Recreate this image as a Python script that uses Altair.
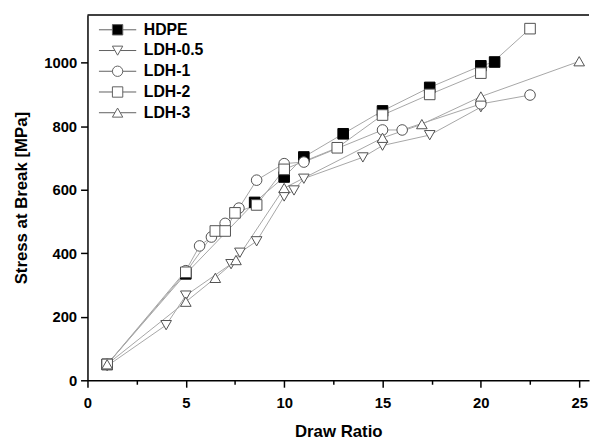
import altair as alt
import pandas as pd

# ---- data ----
series_names = ["HDPE", "LDH-0.5", "LDH-1", "LDH-2", "LDH-3"]

hdpe_x = [1, 5, 8.5, 10, 11, 13, 15, 17.4, 20, 20.7]
hdpe_y = [50, 335, 560, 640, 703, 776, 848, 922, 990, 1002]

ldh05_x = [1, 4, 5, 7.3, 7.75, 8.6, 10, 10.5, 11, 14, 15, 17.4, 20]
ldh05_y = [45, 174, 267, 366, 402, 438, 579, 598, 635, 702, 739, 772, 860]

ldh1_x = [1, 5, 5.7, 6.3, 7, 7.7, 8.6, 10, 11, 15, 16, 20, 22.5]
ldh1_y = [50, 345, 423, 451, 494, 542, 630, 682, 687, 788, 788, 870, 898]

ldh2_x = [1, 5, 6.5, 7, 7.5, 8.6, 10, 12.7, 15, 17.4, 20, 22.5]
ldh2_y = [50, 340, 470, 470, 527, 552, 664, 732, 835, 900, 967, 1107]

ldh3_x = [1, 5, 6.5, 7.55, 10, 15, 17, 20, 25]
ldh3_y = [50, 247, 322, 378, 605, 763, 806, 893, 1004]

x_ticks = [0, 2.5, 5, 7.5, 10, 12.5, 15, 17.5, 20, 22.5, 25]
y_ticks = [0, 100, 200, 300, 400, 500, 600, 700, 800, 900, 1000, 1100]

# ---- build table ----
rows = []
for name, xs, ys in zip(series_names,
                        [hdpe_x, ldh05_x, ldh1_x, ldh2_x, ldh3_x],
                        [hdpe_y, ldh05_y, ldh1_y, ldh2_y, ldh3_y]):
    for x, y in zip(xs, ys):
        rows.append({"series": name, "draw_ratio": x, "stress": y})
df = pd.DataFrame(rows)
legend_df = pd.DataFrame({"series": series_names})
top_df = pd.DataFrame({"stress": [1150]})

# marker shapes (custom paths in the -1..1 box)
SQ = "M-1,-1H1V1H-1Z"
CI = "M1,0A1,1,0,1,1,-1,0A1,1,0,1,1,1,0Z"
TD = "M-1,-0.85L1,-0.85L0,0.9Z"
TU = "M-1,0.85L1,0.85L0,-0.9Z"
marker_paths = [SQ, TD, CI, SQ, TU]
LINE_SQ = "M-3.6,0H-1M1,0H3.6"
LINE_TR = "M-3.6,0H-0.52M0.52,0H3.6"
legend_paths = [LINE_SQ + SQ, LINE_TR + TD, LINE_SQ + CI, LINE_SQ + SQ, LINE_TR + TU]
fills = ["black", "white", "white", "white", "white"]
strokes = ["black", "#505050", "#505050", "#505050", "#505050"]

FONT = "Liberation Sans"

x_enc = alt.X(
    "draw_ratio:Q",
    scale=alt.Scale(domain=[0, 25.5], nice=False, zero=False),
    axis=alt.Axis(
        title="Draw Ratio", values=x_ticks, format="d",
        labelExpr="datum.value % 5 === 0 ? datum.label : ''",
        tickSize={"condition": {"test": "datum.value % 5 === 0", "value": 7}, "value": 4},
        labelFlush=False, labelPadding=9, titlePadding=13,
    ),
)
y_enc = alt.Y(
    "stress:Q",
    scale=alt.Scale(domain=[0, 1150], nice=False),
    axis=alt.Axis(
        title="Stress at Break [MPa]", values=y_ticks, format="d",
        labelExpr="datum.value % 200 === 0 ? datum.label : ''",
        tickSize={"condition": {"test": "datum.value % 200 === 0", "value": 7}, "value": 4},
        labelPadding=4, titlePadding=13,
    ),
)

lines = alt.Chart(df).mark_line(color="#a6a6a6", strokeWidth=1).encode(
    x=x_enc, y=y_enc, detail="series:N"
)

points = alt.Chart(df).mark_point(filled=False, size=115, strokeWidth=1, opacity=1).encode(
    x="draw_ratio:Q",
    y="stress:Q",
    shape=alt.Shape("series:N", scale=alt.Scale(domain=series_names, range=marker_paths), legend=None),
    fill=alt.Fill("series:N", scale=alt.Scale(domain=series_names, range=fills), legend=None),
    stroke=alt.Stroke("series:N", scale=alt.Scale(domain=series_names, range=strokes), legend=None),
)

legend_layer = alt.Chart(legend_df).mark_point(filled=False, size=110, strokeWidth=1, opacity=1).encode(
    shape=alt.Shape("series:N", scale=alt.Scale(domain=series_names, range=legend_paths),
                    legend=alt.Legend(title=None)),
    fill=alt.Fill("series:N", scale=alt.Scale(domain=series_names, range=fills),
                  legend=alt.Legend(title=None)),
    stroke=alt.Stroke("series:N", scale=alt.Scale(domain=series_names,
                                                  range=["#606060"] * 5),
                      legend=alt.Legend(title=None)),
).transform_filter("false")

top_rule = alt.Chart(top_df).mark_rule(color="black", strokeWidth=1.5).encode(y="stress:Q")

chart = alt.layer(lines, points, top_rule, legend_layer).resolve_scale(
    shape="independent", fill="independent", stroke="independent"
).properties(
    width=508, height=370,
    autosize=alt.AutoSizeParams(type="none"),
    padding={"left": 80.5, "top": 4.3, "right": 3, "bottom": 58},
).configure_view(
    stroke=None
).configure_axis(
    domainColor="black", domainWidth=1.5, tickColor="black", tickWidth=1.5,
    labelFont=FONT, labelFontSize=15, labelFontWeight="bold", labelColor="black",
    titleFont=FONT, titleFontSize=17, titleFontWeight="bold", titleColor="black",
    grid=False,
).configure_legend(
    orient="none", legendX=22.5, legendY=7, padding=0,
    symbolSize=110, symbolStrokeWidth=1, symbolOpacity=1, labelOffset=18.5,
    labelFont=FONT, labelFontSize=16, labelFontWeight="bold", labelColor="black",
    rowPadding=5,
)

chart.save("out.html", embed_options={"renderer": "svg", "actions": False})
